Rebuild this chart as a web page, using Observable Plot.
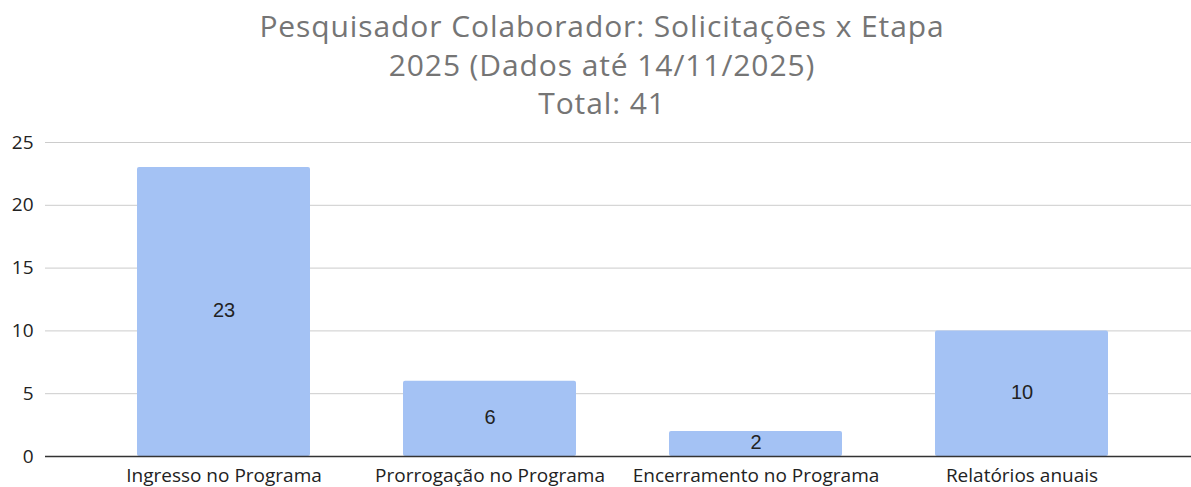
<!DOCTYPE html>
<html><head><meta charset="utf-8">
<script src="https://cdn.jsdelivr.net/npm/d3@7"></script>
<script src="https://cdn.jsdelivr.net/npm/@observablehq/plot@0.6"></script>
<style>
body{margin:0;background:#fff;width:1191px;height:487px;overflow:hidden}
#title{font-family:"Open Sans",sans-serif;font-size:30px;line-height:38.5px;letter-spacing:0.9px;color:#757575;text-align:center;padding-top:7px;padding-left:13px;height:115px;box-sizing:content-box;overflow:visible}
#title div{white-space:nowrap}
</style></head><body>
<div id="title"></div><div id="chart"></div>
<script>
const titleLines = ["Pesquisador Colaborador: Solicitações x Etapa", "2025 (Dados até 14/11/2025)", "Total: 41"];
const categories = ["Ingresso no Programa", "Prorrogação no Programa", "Encerramento no Programa", "Relatórios anuais"];
const values = [23, 6, 2, 10];
const yTicks = [0, 5, 10, 15, 20, 25];

const tEl = document.getElementById("title");
titleLines.forEach(t => { const d = document.createElement("div"); d.textContent = t; tEl.appendChild(d); });

const data = categories.map((c, i) => ({category: c, value: values[i]}));

const chart = Plot.plot({
  width: 1191,
  height: 365,
  marginLeft: 45,
  marginRight: 0,
  marginTop: 20,
  marginBottom: 31,
  style: {fontFamily: "'Open Sans', sans-serif", color: "#222", background: "#fff", overflow: "visible"},
  x: {type: "band", domain: categories, range: [136, 1109], paddingInner: 0.35, paddingOuter: 0, label: null},
  y: {domain: [0, 25], ticks: yTicks, label: null},
  marks: [
    Plot.ruleY(yTicks.filter(v => v > 0), {stroke: "#cccccc", strokeWidth: 1}),
    Plot.barY(data, {x: "category", y: "value", fill: "#a4c2f4", rx: 2}),
    Plot.text(data, {x: "category", y: d => d.value / 2, text: d => String(d.value), fontFamily: "'Liberation Sans', Arial, sans-serif", fontSize: 20, fill: "#222", dy: -1}),
    Plot.ruleY([0], {stroke: "#333333", strokeWidth: 1.5}),
    Plot.axisY({ticks: yTicks, tickSize: 0, tickPadding: 12, fontSize: 19, label: null}),
    Plot.axisX({tickSize: 0, tickPadding: 12, fontSize: 19, label: null})
  ]
});
document.getElementById("chart").appendChild(chart);
</script>
</body></html>
